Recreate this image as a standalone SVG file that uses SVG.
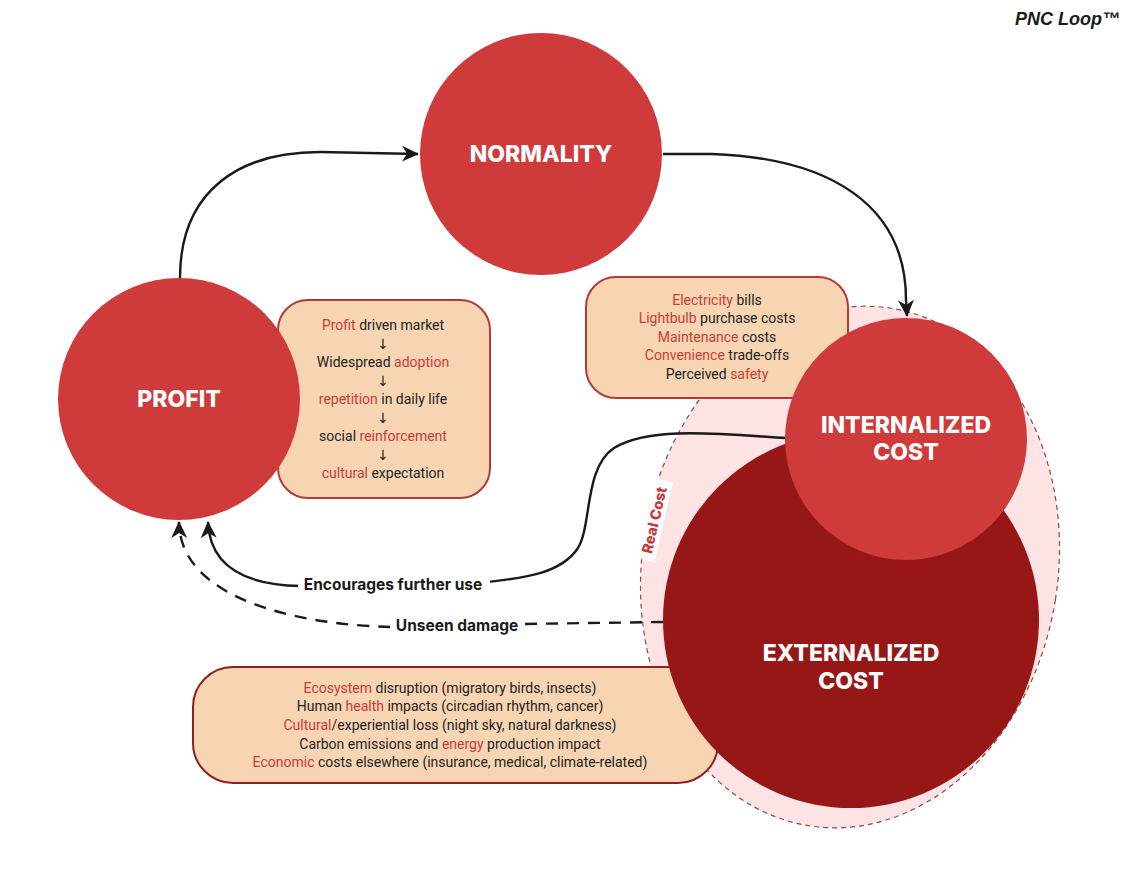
<svg xmlns="http://www.w3.org/2000/svg" width="1129" height="885" viewBox="0 0 1129 885">
<defs>
<style>
.title{font-family:Inter,Lato,"DejaVu Sans",sans-serif;font-weight:800;fill:#ffffff;text-anchor:middle;dominant-baseline:central;font-size:23px}
.body{font-family:Roboto,"Noto Sans","Liberation Sans",sans-serif;font-size:14px;fill:#222222;text-anchor:middle;dominant-baseline:central}
.arr{font-family:"DejaVu Sans",sans-serif;font-size:14px;fill:#222222;text-anchor:middle;dominant-baseline:central}
.r{fill:#c93b3b}
.box{fill:#f7d5b2;stroke:#b23a3a;stroke-width:2}
.conn{fill:none;stroke:#1a1a1a;stroke-width:2.4}
.dash{stroke-dasharray:12 9}
.lbl{font-family:Inter,Lato,"DejaVu Sans",sans-serif;font-weight:700;fill:#1a1a1a;text-anchor:middle;dominant-baseline:central}
.red{fill:#cf3a3b}
.dark{fill:#971717}
</style>
<marker id="ah" markerUnits="userSpaceOnUse" markerWidth="18" markerHeight="18" viewBox="0 0 18 18" refX="16" refY="9" orient="auto">
<path d="M0,1 L17,9 L0,17 L5,9 Z" fill="#1a1a1a"/>
</marker>
</defs>
<rect width="1129" height="885" fill="#ffffff"/>

<text x="1120" y="25" text-anchor="end" font-family="'Liberation Sans',Arial,sans-serif" font-weight="bold" font-style="italic" font-size="18" fill="#1a1a1a">PNC Loop™</text>

<g id="real-cost">
<ellipse cx="850" cy="567" rx="208" ry="262" transform="rotate(9 850 567)" fill="#fde3e3" stroke="#8a4a4a" stroke-width="1.2" stroke-dasharray="5 4"/>
<g transform="translate(654 520) rotate(-77)">
<rect x="-41" y="-10" width="82" height="20" fill="#ffffff"/>
<text x="0" y="0" font-family="Inter,Lato,'DejaVu Sans',sans-serif" font-weight="800" font-size="14.5" fill="#c23a3e" text-anchor="middle" dominant-baseline="central">Real Cost</text>
</g>
</g>

<g id="connectors">
<path class="conn" d="M180,278 C180,190 240,152 320,152 L418,154" marker-end="url(#ah)"/>
<path class="conn" d="M663,154 L712,154 C830,158 906,205 906,300 L907,316" marker-end="url(#ah)"/>
<path class="conn" d="M786,438 C720,434 650,426 614,448 C584,468 592,525 578,548 C560,575 520,578 488,582 L300,586 C250,585 210,570 208,522" marker-end="url(#ah)"/>
<rect x="298" y="573" width="192" height="22" fill="#ffffff"/>
<text class="lbl" x="393" y="584" font-size="15.5">Encourages further use</text>
<path class="conn dash" d="M663,622 L520,624 L392,627 C300,625 180,600 179,522" marker-end="url(#ah)"/>
<rect x="390" y="614" width="134" height="22" fill="#ffffff"/>
<text class="lbl" x="457" y="625" font-size="15.5">Unseen damage</text>
</g>

<g id="profit-box">
<rect class="box" x="278" y="300" width="212" height="198" rx="30"/>
<text class="body" x="383" y="325"><tspan class="r">Profit</tspan> driven market</text>
<text class="arr" x="383" y="344">↓</text>
<text class="body" x="383" y="362">Widespread <tspan class="r">adoption</tspan></text>
<text class="arr" x="383" y="381">↓</text>
<text class="body" x="383" y="399"><tspan class="r">repetition</tspan> in daily life</text>
<text class="arr" x="383" y="418">↓</text>
<text class="body" x="383" y="436">social <tspan class="r">reinforcement</tspan></text>
<text class="arr" x="383" y="455">↓</text>
<text class="body" x="383" y="473"><tspan class="r">cultural</tspan> expectation</text>
</g>

<g id="internal-box">
<rect class="box" x="586" y="277" width="262" height="121" rx="30"/>
<text class="body" x="717" y="300"><tspan class="r">Electricity</tspan> bills</text>
<text class="body" x="717" y="318"><tspan class="r">Lightbulb</tspan> purchase costs</text>
<text class="body" x="717" y="337"><tspan class="r">Maintenance</tspan> costs</text>
<text class="body" x="717" y="355"><tspan class="r">Convenience</tspan> trade-offs</text>
<text class="body" x="717" y="374">Perceived <tspan class="r">safety</tspan></text>
</g>

<g id="external-box">
<rect class="box" x="193" y="667" width="525" height="116" rx="40" style="stroke:#8e2020"/>
<text class="body" x="450" y="688"><tspan class="r">Ecosystem</tspan> disruption (migratory birds, insects)</text>
<text class="body" x="450" y="706">Human <tspan class="r">health</tspan> impacts (circadian rhythm, cancer)</text>
<text class="body" x="450" y="725"><tspan class="r">Cultural</tspan>/experiential loss (night sky, natural darkness)</text>
<text class="body" x="450" y="744">Carbon emissions and <tspan class="r">energy</tspan> production impact</text>
<text class="body" x="450" y="762"><tspan class="r">Economic</tspan> costs elsewhere (insurance, medical, climate-related)</text>
</g>

<g id="profit">
<circle class="red" cx="179" cy="399" r="121"/>
<text class="title" x="179" y="399">PROFIT</text>
</g>

<g id="normality">
<circle class="red" cx="541" cy="154" r="121"/>
<text class="title" x="541" y="154">NORMALITY</text>
</g>

<g id="externalized-cost">
<circle class="dark" cx="851" cy="620" r="188"/>
<text class="title" x="851" y="653">EXTERNALIZED</text>
<text class="title" x="851" y="681">COST</text>
</g>

<g id="internalized-cost">
<circle class="red" cx="906" cy="439" r="121"/>
<text class="title" x="906" y="425">INTERNALIZED</text>
<text class="title" x="906" y="452">COST</text>
</g>
</svg>
